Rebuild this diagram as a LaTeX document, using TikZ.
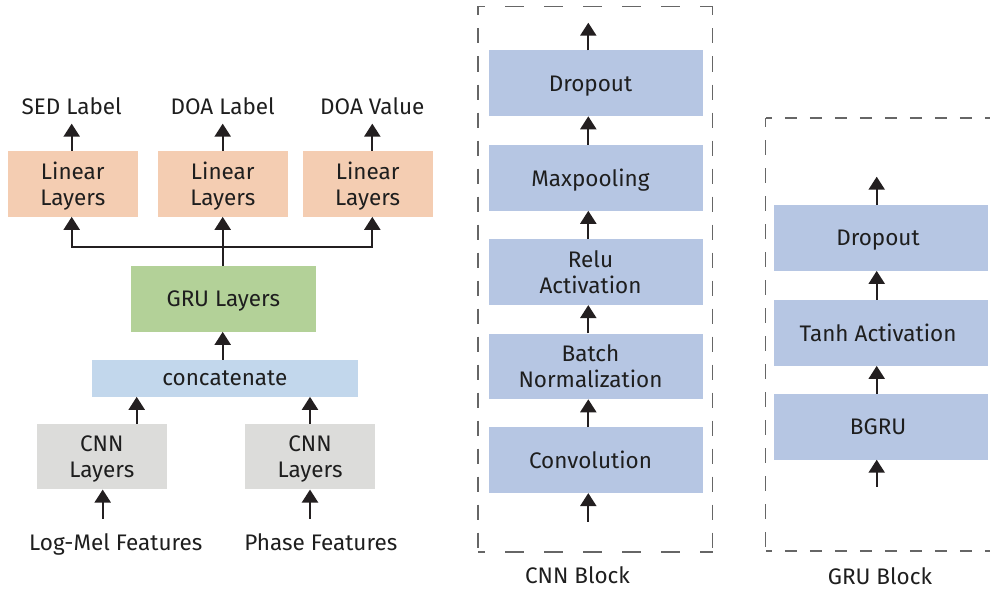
\documentclass[tikz,border=0pt]{standalone}
\usepackage{fontspec}
\setmainfont{Fira Sans}
\usetikzlibrary{arrows.meta}
\definecolor{txt}{HTML}{1E1E1E}
\definecolor{arrowc}{HTML}{231F20}
\definecolor{peach}{HTML}{F4CDB2}
\definecolor{leaf}{HTML}{B3D198}
\definecolor{sky}{HTML}{C2D7EC}
\definecolor{stone}{HTML}{DCDCDA}
\definecolor{layerblue}{HTML}{B6C6E3}
\definecolor{framegray}{HTML}{666666}
\begin{document}
\begin{tikzpicture}[x=1pt,y=-1pt,
  every node/.style={font=\fontsize{22.5}{26.5}\selectfont, text=txt, inner sep=0pt, text depth=0pt},
  lbl/.style={},
  lin/.style={fill=peach, minimum width=129.7pt, minimum height=65.7pt, align=center},
  grul/.style={fill=leaf, minimum width=184.7pt, minimum height=65.7pt},
  cat/.style={fill=sky, minimum width=265.7pt, minimum height=36.7pt},
  cnnl/.style={fill=stone, minimum width=129.7pt, minimum height=65.3pt, align=center},
  layer/.style={fill=layerblue, minimum width=213.7pt, minimum height=65.6pt},
  cnntext/.style={label={[xshift=-5.3pt, align=center]center:#1}},
  grutext/.style={label={[xshift=-3pt, align=center]center:#1}},
  frame/.style={rectangle, inner sep=0pt},
  arr/.style={draw=arrowc, line width=2.2pt, -{Triangle[width=16pt,length=13pt]}},
  link/.style={draw=arrowc, line width=2.2pt},
  hwide/.style={draw=framegray, line width=1.3pt, dash pattern=on 19pt off 20pt, dash phase=12pt},
  hnarrow/.style={draw=framegray, line width=1.3pt, dash pattern=on 12.5pt off 12.5pt, dash phase=6pt},
  vdash/.style={draw=framegray, line width=1.3pt, dash pattern=on 15pt off 13pt, dash phase=6pt},
]
\useasboundingbox (0,0) rectangle (990,594);
\clip (0,0) rectangle (990,594);

% ---------- overall network ----------
\node[lbl] (sed)  at (71.7,106)  {SED Label};
\node[lbl] (doal) at (222.7,106) {DOA Label};
\node[lbl] (doav) at (372.3,106) {DOA Value};

\node[lin] (lin1) at (72.8,183.8)  {Linear\\Layers};
\node[lin] (lin2) at (222.8,183.8) {Linear\\Layers};
\node[lin] (lin3) at (367.7,183.8) {Linear\\Layers};

\node[grul] (gru) at (223.3,298.8) {GRU Layers};
\node[cat]  (cat) at (224.8,378.3) {concatenate};

\node[cnnl] (cnn1) at (101.8,456.7) {CNN\\Layers};
\node[cnnl] (cnn2) at (310,456.7)   {CNN\\Layers};

\node[lbl] (mel) at (115.8,542.5) {Log-Mel Features};
\node[lbl] (pha) at (320.8,542.5) {Phase Features};

% outputs of the linear heads
\draw[arr, shorten >=9pt] (sed.south |- lin1.north)  -- (sed.south);
\draw[arr, shorten >=9pt] (doal.south |- lin2.north) -- (doal.south);
\draw[arr, shorten >=9pt] (doav.south |- lin3.north) -- (doav.south);

% fork from the GRU layers to the three heads
\coordinate (fork) at (222.7,246.7);
\draw[link] (gru.north -| fork) -- (fork);
\draw[arr] (fork) -- (lin2.south -| fork);
\draw[arr] (fork) -| (lin1.south -| sed);
\draw[arr] (fork) -| (lin3.south -| doav);

% concatenation and the two CNN branches
\draw[arr] (cat.north -| fork) -- (gru.south -| fork);
\coordinate (meljoin) at (136.7,0);
\draw[arr] (cnn1.north -| meljoin) -- (cat.south -| meljoin);
\draw[arr] (cnn2.north) -- (cat.south -| cnn2.north);
\coordinate (melin) at (102.7,0);
\draw[arr, shorten <=15pt] (mel.north -| melin) -- (cnn1.south -| melin);
\draw[arr, shorten <=15pt] (pha.north -| cnn2.south) -- (cnn2.south);

% ---------- CNN block ----------
\node[frame, minimum width=234pt, minimum height=545pt] (cnnframe) at (595.3,279.2) {};
\draw[hwide] (cnnframe.north west) -- (cnnframe.north east);
\draw[hwide] (cnnframe.south west) -- (cnnframe.south east);
\draw[vdash] (cnnframe.north west) -- (cnnframe.south west);
\draw[vdash] (cnnframe.north east) -- (cnnframe.south east);

\node[layer, cnntext=Dropout]                (cdrop) at (595.8,83.3)  {};
\node[layer, cnntext=Maxpooling]             (cpool) at (595.8,177.8) {};
\node[layer, cnntext={Relu\\Activation}]     (crelu) at (595.8,272.1) {};
\node[layer, cnntext={Batch\\Normalization}] (cbn)   at (595.8,366.3) {};
\node[layer, cnntext=Convolution]            (cconv) at (595.8,460.1) {};

\coordinate (cnnout) at (588.3,22.7);
\coordinate (cnnin)  at (588.3,521.7);
\draw[arr] (cdrop.north -| cnnout) -- (cnnout);
\draw[arr] (cpool.north -| cnnout) -- (cdrop.south -| cnnout);
\draw[arr] (crelu.north -| cnnout) -- (cpool.south -| cnnout);
\draw[arr] (cbn.north -| cnnout)   -- (crelu.south -| cnnout);
\draw[arr] (cconv.north -| cnnout) -- (cbn.south -| cnnout);
\draw[arr] (cnnin) -- (cconv.south -| cnnin);

\node[lbl] (cnncap) at (577.5,575.5) {CNN Block};

% ---------- GRU block ----------
\node[frame, minimum width=231pt, minimum height=432.4pt] (gruframe) at (881.5,334.5) {};
\draw[hnarrow] (gruframe.north west) -- (gruframe.north east);
\draw[hnarrow] (gruframe.south west) -- (gruframe.south east);
\draw[vdash] (gruframe.north west) -- (gruframe.south west);

\node[layer, grutext=Dropout]         (gdrop) at (881,237.9) {};
\node[layer, grutext=Tanh Activation] (gtanh) at (881,332.9) {};
\node[layer, grutext=BGRU]            (gbgru) at (881,426.7) {};

\coordinate (gruout) at (876.7,176.7);
\coordinate (gruin)  at (876.7,486.7);
\draw[arr] (gdrop.north -| gruout) -- (gruout);
\draw[arr] (gtanh.north -| gruout) -- (gdrop.south -| gruout);
\draw[arr] (gbgru.north -| gruout) -- (gtanh.south -| gruout);
\draw[arr] (gruin) -- (gbgru.south -| gruin);

\node[lbl] (grucap) at (880,576) {GRU Block};
\end{tikzpicture}
\end{document}
